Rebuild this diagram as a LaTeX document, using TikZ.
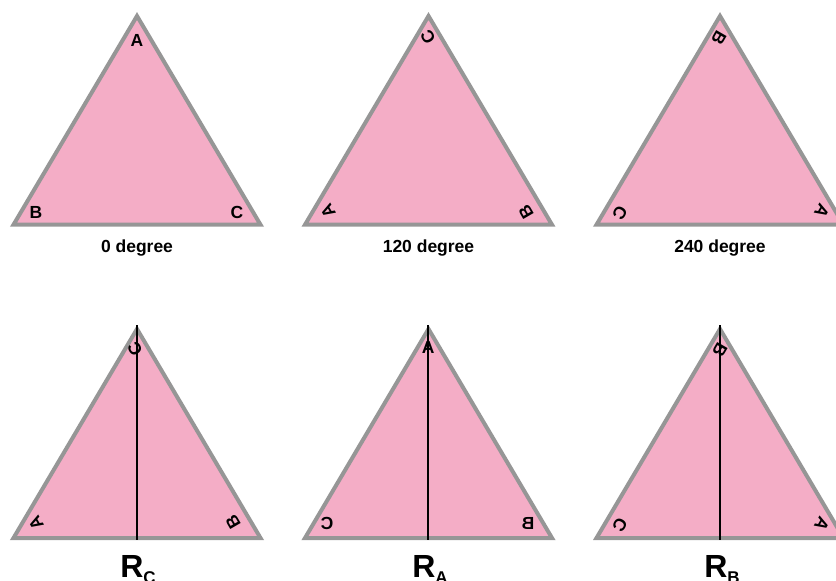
\documentclass[tikz,border=0pt]{standalone}
\usepackage{fontspec}
\setmainfont{Liberation Sans}
\definecolor{pinkc}{RGB}{244,173,198}
\definecolor{grayc}{RGB}{150,150,150}
\begin{document}
\begin{tikzpicture}[x=1pt,y=-1pt,
  tri/.style={fill=pinkc,draw=grayc,line width=4pt,line join=miter},
  lett/.style={font=\fontsize{17.5}{17.5}\selectfont\bfseries,inner sep=0pt},
  capt/.style={font=\fontsize{17.5}{17.5}\selectfont\bfseries,inner sep=0pt,anchor=base},
  refl/.style={font=\fontsize{32}{32}\selectfont\bfseries,inner sep=0pt,anchor=base},
  axisline/.style={draw=black,line width=2pt}]
\useasboundingbox (0,0) rectangle (836,581);
\clip (0,0) rectangle (836,581);
% top row
\draw[tri] (137,16) -- (13.5,224.7) -- (260.5,224.7) -- cycle;
\draw[tri] (428.5,16) -- (305,224.7) -- (552,224.7) -- cycle;
\draw[tri] (720,16) -- (596.5,224.7) -- (843.5,224.7) -- cycle;
% bottom row
\draw[tri] (137,329) -- (13.5,538) -- (260.5,538) -- cycle;
\draw[tri] (428.5,329) -- (305,538) -- (552,538) -- cycle;
\draw[tri] (720,329) -- (596.5,538) -- (843.5,538) -- cycle;
% axes
\coordinate (c1t) at (136.5,325); \coordinate (c1b) at (136.5,540);
\coordinate (c2t) at (428.3,325); \coordinate (c2b) at (428.3,540);
\coordinate (c3t) at (720,325); \coordinate (c3b) at (720,540);
% letters 0 degree
\node[lett] (a0) at (137,40) {A};
\node[lett] (b0) at (36,212) {B};
\node[lett] (c0) at (237,212) {C};
% 120 degree
\node[lett,rotate=120] (c120) at (428,37) {C};
\node[lett,rotate=120] (a120) at (328,211) {A};
\node[lett,rotate=120] (b120) at (526,212) {B};
% 240 degree
\node[lett,rotate=240] (b240) at (719,38) {B};
\node[lett,rotate=240] (c240) at (620,213) {C};
\node[lett,rotate=240] (a240) at (822,211) {A};
% R_C
\node[lett,rotate=120] (crc) at (135,349) {C};
\node[lett,rotate=120] (arc) at (36,523) {A};
\node[lett,rotate=120] (brc) at (233,522) {B};
% R_A
\node[lett] (ara) at (428.3,347) {A};
\node[lett,xscale=-1] (cra) at (327,523) {C};
\node[lett,xscale=-1] (bra) at (528,523) {B};
% R_B
\node[lett,rotate=240] (brb) at (720,350) {B};
\node[lett,rotate=240] (crb) at (620,525) {C};
\node[lett,rotate=240] (arb) at (822,524) {A};
% axes drawn over letters
\draw[axisline] (c1t) -- (c1b);
\draw[axisline] (c2t) -- (c2b);
\draw[axisline] (c3t) -- (c3b);
% captions
\node[capt] (t0) at (137,252) {0 degree};
\node[capt] (t120) at (428.5,252) {120 degree};
\node[capt] (t240) at (720,252) {240 degree};
\node[refl] (rc) at (138,577) {R\raisebox{-6pt}{\fontsize{17}{17}\selectfont C}};
\node[refl] (ra) at (430,577) {R\raisebox{-6pt}{\fontsize{17}{17}\selectfont A}};
\node[refl] (rb) at (722,577) {R\raisebox{-6pt}{\fontsize{17}{17}\selectfont B}};
\end{tikzpicture}
\end{document}
